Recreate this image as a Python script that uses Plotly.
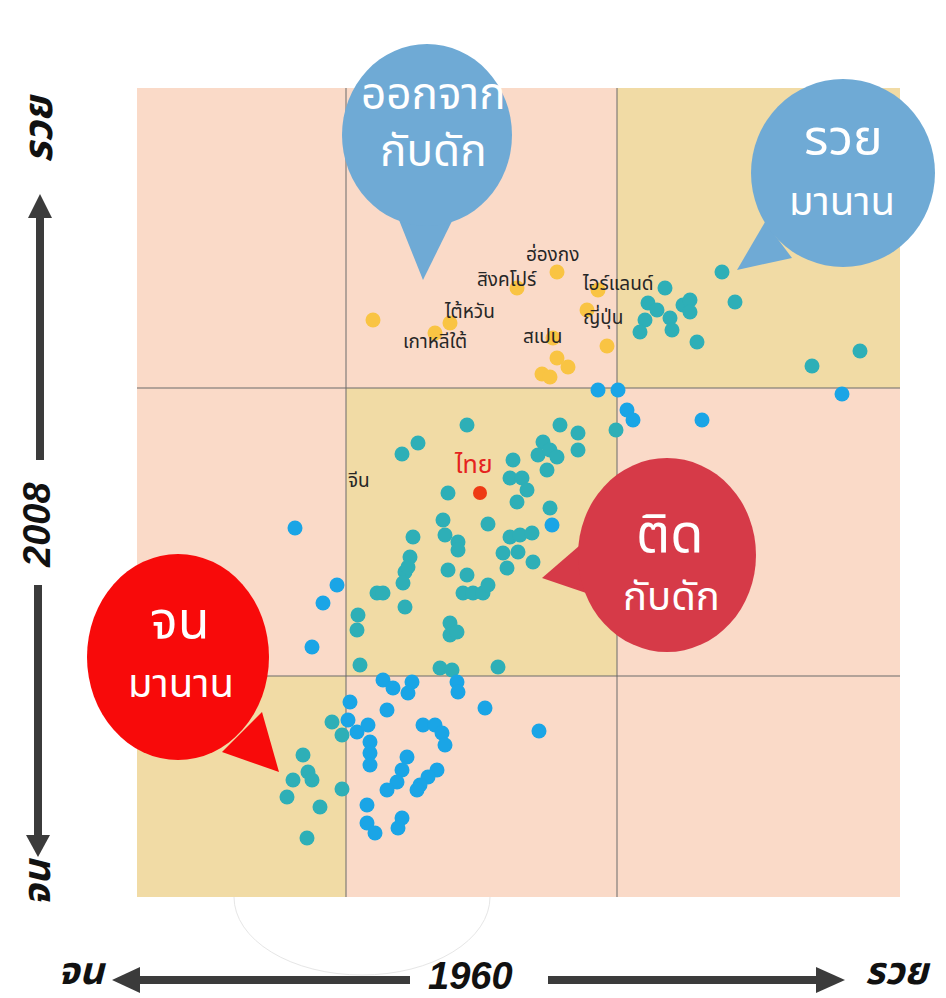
import plotly.graph_objects as go

# ---------------- data (index units) ----------------
# x = income level in 1960, y = income level in 2008 (arbitrary index units)
yellow_x = [236, 420, 380, 461, 313, 298, 450, 416, 470, 420, 431, 405, 413]
yellow_y = [577, 625, 609, 607, 574, 564, 587, 559, 551, 539, 530, 523, 520]

teal_x = [585, 528, 511, 520, 508, 503, 533, 535, 546, 553, 553, 598, 560, 675, 723,
          479, 330, 281, 265, 423, 441, 441, 406, 401, 413, 420, 410, 376, 373, 385, 390, 380, 311,
          413, 351, 306, 308, 321, 321, 276, 373, 383, 395, 366, 381, 396, 370, 273, 268, 311, 330,
          240, 246, 221, 220, 223, 266, 271, 268, 326, 336, 346, 351, 313, 313, 320, 303, 315, 361,
          195, 205, 166, 171, 175, 156, 150, 183, 205, 170]
teal_y = [625, 609, 594, 587, 577, 565, 579, 567, 592, 597, 585, 595, 555, 531, 546,
          467, 472, 454, 443, 472, 464, 447, 455, 442, 447, 440, 427, 437, 419, 419, 407, 395, 404,
          389, 373, 377, 362, 355, 347, 360, 360, 362, 364, 344, 345, 335, 329, 340, 325, 327, 322,
          304, 304, 282, 267, 232, 314, 330, 290, 304, 304, 304, 312, 274, 262, 265, 229, 227, 230,
          175, 162, 142, 125, 117, 117, 100, 90, 108, 59]

blue_x = [705, 461, 481, 490, 496, 565, 415, 158, 402, 200, 186, 175,
          246, 256, 275, 271, 320, 321, 250, 348, 213, 211, 220, 231, 233, 233, 233, 286, 298, 305,
          308, 270, 265, 260, 250, 300, 291, 283, 280, 230, 230, 238, 265, 261]
blue_y = [503, 507, 507, 487, 477, 477, 372, 369, 166, 312, 294, 250,
          217, 209, 215, 204, 215, 205, 187, 189, 195, 177, 165, 172, 155, 144, 132, 172, 172, 164,
          152, 140, 127, 115, 107, 127, 120, 112, 107, 92, 74, 64, 79, 69]

thai_x = [343]
thai_y = [404]

label_names = ["ฮ่องกง", "สิงคโปร์", "ไอร์แลนด์", "ไต้หวัน", "เกาหลีใต้", "ญี่ปุ่น", "สเปน", "จีน"]
label_x = [415, 370, 481, 332, 298, 466, 405, 222]
label_y = [642, 617, 613, 585, 555, 579, 560, 416]
thai_label = "ไทย"
thai_label_xy = (336, 432)

x_edges = [0, 209, 480, 763]   # quadrant borders (1960)
y_edges = [0, 221, 509, 809]   # quadrant borders (2008)

# ---------------- styling ----------------
# page offset: the html body has an 8px margin, so the figure is drawn 8px smaller
OFF = 8
W, H = 946 - OFF, 998 - OFF
L, R, T, B = 137, 900, 88, 897          # plot area in page pixels
PINK = "#FADAC8"
TAN = "#F1DBA5"
TEAL = "#2EAFB7"
BLUE = "#1AA5E6"
YELLOW = "#F9C443"
THAI_RED = "#EE3A14"
FONT = "Noto Sans Thai, Noto Sans, DejaVu Sans, sans-serif"


def pxx(x):
    return (x - L) / (R - L)


def pxy(y):
    return (B - y) / (B - T)


fig = go.Figure()
mk = dict(size=15, line=dict(width=0))
fig.add_trace(go.Scatter(x=yellow_x, y=yellow_y, mode="markers",
                         marker=dict(color=YELLOW, **mk), hoverinfo="skip"))
fig.add_trace(go.Scatter(x=teal_x, y=teal_y, mode="markers",
                         marker=dict(color=TEAL, **mk), hoverinfo="skip"))
fig.add_trace(go.Scatter(x=blue_x, y=blue_y, mode="markers",
                         marker=dict(color=BLUE, **mk), hoverinfo="skip"))
fig.add_trace(go.Scatter(x=thai_x, y=thai_y, mode="markers",
                         marker=dict(color=THAI_RED, size=14, line=dict(width=0)), hoverinfo="skip"))

shapes = []
# white ghost half-ellipse below chart
shapes.append(dict(type="circle", xref="paper", yref="paper", layer="below",
                   x0=pxx(234), x1=pxx(490), y0=pxy(975), y1=pxy(819),
                   fillcolor="white", line=dict(color="#e6e6e6", width=1)))
# background cells
for i in range(3):
    for j in range(3):
        shapes.append(dict(type="rect", xref="x", yref="y", layer="below",
                           x0=x_edges[i], x1=x_edges[i + 1], y0=y_edges[j], y1=y_edges[j + 1],
                           fillcolor=TAN if i == j else PINK, line=dict(width=0)))
# quadrant lines
for xv in x_edges[1:3]:
    shapes.append(dict(type="line", xref="x", yref="y", layer="below",
                       x0=xv, x1=xv, y0=y_edges[0], y1=y_edges[-1],
                       line=dict(color="#6a6a6a", width=1)))
for yv in y_edges[1:3]:
    shapes.append(dict(type="line", xref="x", yref="y", layer="below",
                       x0=x_edges[0], x1=x_edges[-1], y0=yv, y1=yv,
                       line=dict(color="#6a6a6a", width=1)))


def tri(pts, color):
    p = "M " + " L ".join(f"{pxx(a):.5f},{pxy(b):.5f}" for a, b in pts) + " Z"
    return dict(type="path", xref="paper", yref="paper", layer="above", path=p,
                fillcolor=color, line=dict(width=0))


def ell(cx, cy, rx, ry, color):
    return dict(type="circle", xref="paper", yref="paper", layer="above",
                x0=pxx(cx - rx), x1=pxx(cx + rx), y0=pxy(cy + ry), y1=pxy(cy - ry),
                fillcolor=color, line=dict(width=0))


BB = "#6FAAD5"
RB = "#D63A48"
RR = "#F80A0A"
shapes += [tri([(393, 205), (455, 215), (423, 280)], BB), ell(427, 135, 85, 91, BB)]
shapes += [tri([(765, 222), (792, 258), (737, 270)], BB), ell(843, 173, 92, 94, BB)]
shapes += [tri([(586, 540), (592, 595), (542, 578)], RB), ell(667, 555, 89, 97, RB)]
shapes += [tri([(262, 712), (222, 752), (279, 772)], RR), ell(178, 657, 91, 103, RR)]


def arrow_v(x, y0, y1, tip_y, color="#3b3b3b"):
    s = [dict(type="line", xref="paper", yref="paper", layer="above",
              x0=pxx(x), x1=pxx(x), y0=pxy(y0), y1=pxy(y1), line=dict(color=color, width=8))]
    s.append(tri([(x - 12, y1), (x + 12, y1), (x, tip_y)], color))
    return s


def arrow_h(y, x0, x1, tip_x, color="#3b3b3b"):
    s = [dict(type="line", xref="paper", yref="paper", layer="above",
              x0=pxx(x0), x1=pxx(x1), y0=pxy(y), y1=pxy(y), line=dict(color=color, width=8))]
    s.append(tri([(x1, y - 13), (x1, y + 13), (tip_x, y)], color))
    return s


shapes += arrow_v(40, 460, 218, 194)
shapes += arrow_v(38, 585, 835, 857)
shapes += arrow_h(980, 410, 140, 112)
shapes += arrow_h(980, 548, 816, 845)

ann = []


def txt(x, y, s, size, color="white", ref="paper"):
    d = dict(text=s, showarrow=False, xanchor="center", yanchor="middle",
             font=dict(size=size, color=color, family=FONT))
    if ref == "paper":
        d.update(xref="paper", yref="paper", x=pxx(x), y=pxy(y))
    else:
        d.update(xref="x", yref="y", x=x, y=y)
    ann.append(d)


# bubble texts
txt(433, 124, "ออกจาก<br>กับดัก", 44)
txt(843, 140, "รวย", 50)
txt(842, 203, "มานาน", 40)
txt(670, 535, "ติด", 54)
txt(671, 598, "กับดัก", 40)
txt(180, 622, "จน", 52)
txt(181, 685, "มานาน", 40)

# country labels
for n, lx, ly in zip(label_names, label_x, label_y):
    txt(lx, ly, n, 19, color="#262626", ref="data")
txt(thai_label_xy[0], thai_label_xy[1], thai_label, 25, color="#E5231E", ref="data")

# axis descriptors
AX_FONT = "Liberation Sans, Arial, sans-serif"
for (x, y, s, size, ang) in [(40, 128, "รวย", 40, -90), (37, 525, "2008", 38, -90),
                             (38, 882, "จน", 38, -90), (82, 972, "จน", 38, 0),
                             (470, 976, "1960", 38, 0), (898, 972, "รวย", 38, 0)]:
    ann.append(dict(text=f"<b><i>{s}</i></b>", showarrow=False, xref="paper", yref="paper",
                    x=pxx(x), y=pxy(y), xanchor="center", yanchor="middle", textangle=ang,
                    font=dict(size=size, color="#111111",
                              family=AX_FONT if s.isdigit() else FONT)))

fig.update_layout(
    width=W, height=H, autosize=False,
    margin=dict(l=L - OFF, r=W - (R - OFF), t=T - OFF, b=H - (B - OFF), pad=0),
    paper_bgcolor="white", plot_bgcolor="rgba(0,0,0,0)",
    showlegend=False, shapes=shapes, annotations=ann,
    xaxis=dict(range=[x_edges[0], x_edges[-1]], showgrid=False, zeroline=False,
               showticklabels=False, ticks="", showline=False, fixedrange=True),
    yaxis=dict(range=[y_edges[0], y_edges[-1]], showgrid=False, zeroline=False,
               showticklabels=False, ticks="", showline=False, fixedrange=True),
)
fig.write_html("out.html")
